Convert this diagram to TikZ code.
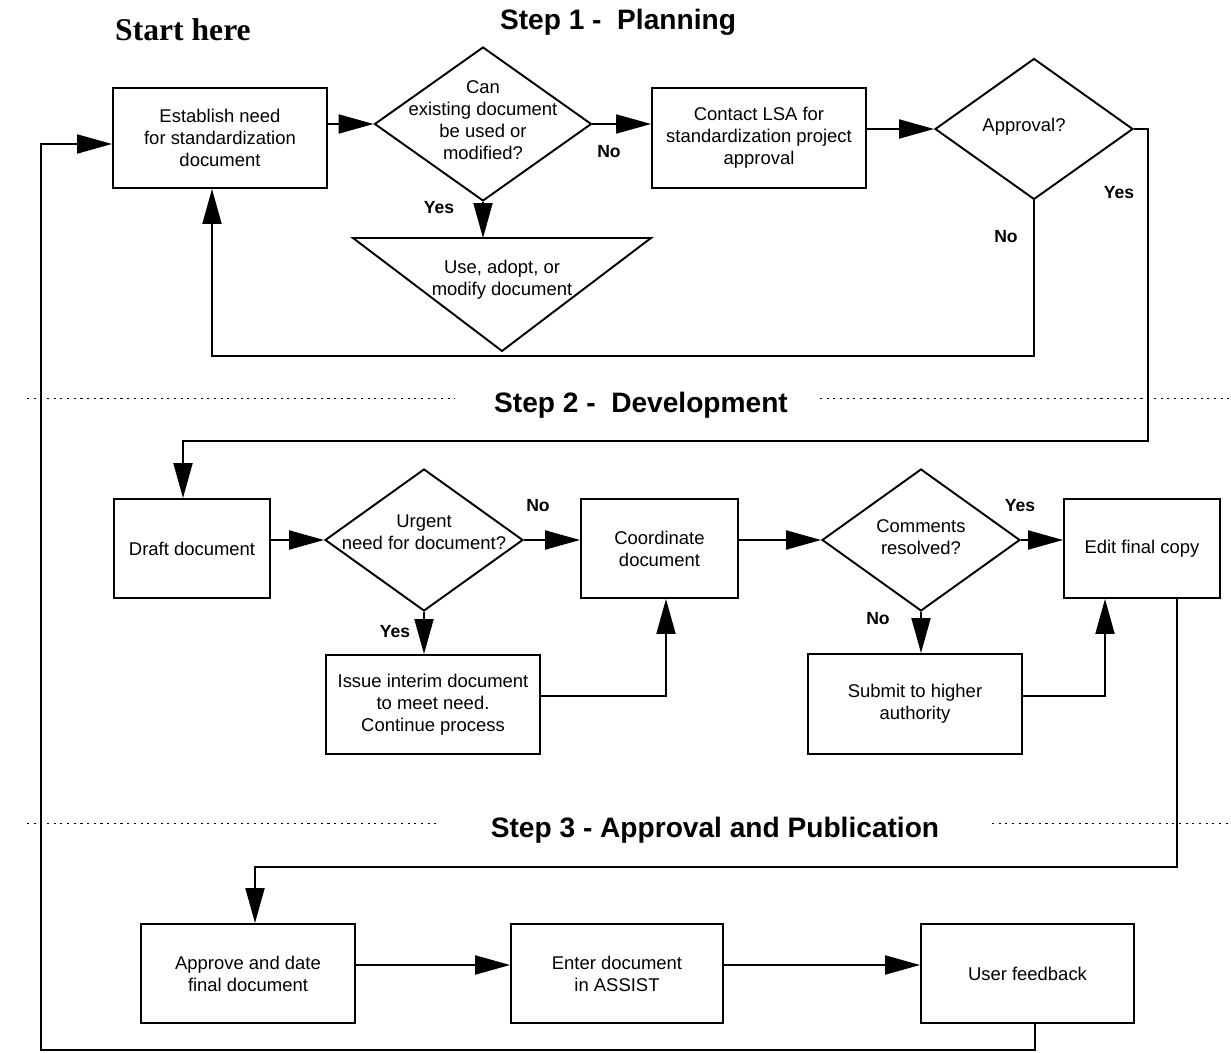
\documentclass[tikz,border=0pt]{standalone}
\usepackage{fontspec}
\setmainfont{Liberation Sans}
\newfontfamily\startfont{Liberation Serif}
\usetikzlibrary{shapes.geometric, arrows.meta}

\tikzset{
    box/.style={draw, line width=1.1pt, align=center, inner sep=2pt, font=\fontsize{10.5}{12.5}\selectfont},
    decision/.style={draw, diamond, line width=1.1pt, inner sep=0pt},
    txt/.style={align=center, font=\fontsize{10.5}{12.5}\selectfont},
    answer/.style={font=\bfseries\fontsize{10}{12}\selectfont},
    steptitle/.style={font=\bfseries\fontsize{16}{19}\selectfont},
    arr/.style={-{Triangle[length=0.7cm, width=0.38cm]}, line width=1.1pt},
    link/.style={line width=1.1pt},
    divider/.style={line width=0.5pt, dash pattern=on 1.2pt off 2.6pt}
}

\begin{document}
\begin{tikzpicture}[x=0.02cm, y=-0.02cm]
    \useasboundingbox (0, 0) rectangle (1231, 1053);

    \node [font=\startfont\bfseries\fontsize{18}{21}\selectfont] (start) at (183, 30) {Start here};
    \node [steptitle] (step1) at (618, 22) {Step 1 -\ \ Planning};
    \node [steptitle] (step2) at (641, 405) {Step 2 -\ \ Development};
    \node [steptitle] (step3) at (715, 830) {Step 3 - Approval and Publication};
    \draw [divider] (27, 398) -- (455, 398);
    \draw [divider] (820, 398) -- (1231, 398);
    \draw [divider] (27, 823) -- (438, 823);
    \draw [divider] (992, 823) -- (1231, 823);

    % step 1
    \node [box, minimum width=4.28cm, minimum height=2cm] (est) at (220, 138) {Establish need\\for standardization\\document};
    \node [decision, minimum width=4.34cm, minimum height=3.08cm] (can) at (483, 124) {};
    \node [txt] (cantxt) at (483, 120.5) {Can\\existing document\\be used or\\modified?};
    \node [box, minimum width=4.28cm, minimum height=2cm] (lsa) at (759, 138) {Contact LSA for\\standardization project\\approval};
    \node [decision, minimum width=3.96cm, minimum height=2.82cm] (appr) at (1034, 129) {};
    \node [txt] (apprtxt) at (1024, 127) {Approval?};
    \draw [link] (353, 238) -- (651, 238) -- (502, 351) -- cycle;
    \coordinate (usetop) at (483, 238);
    \node [txt] (usetxt) at (502, 280) {Use, adopt, or\\modify document};

    % step 2
    \node [box, minimum width=3.12cm, minimum height=1.98cm] (draft) at (192, 548.5) {Draft document};
    \node [decision, minimum width=3.96cm, minimum height=2.84cm] (urg) at (424, 540) {};
    \node [txt] (urgtxt) at (424, 532) {Urgent\\need for document?};
    \node [box, minimum width=3.14cm, minimum height=1.98cm] (coord) at (659.5, 548.5) {Coordinate\\document};
    \node [box, minimum width=4.28cm, minimum height=1.98cm] (issue) at (433, 704.5) {Issue interim document\\to meet need.\\Continue process};
    \node [decision, minimum width=3.96cm, minimum height=2.84cm] (comm) at (921, 540) {};
    \node [txt] (commtxt) at (921, 537) {Comments\\resolved?};
    \node [box, minimum width=3.12cm, minimum height=1.98cm] (edit) at (1142, 548.5) {Edit final copy};
    \node [box, minimum width=4.28cm, minimum height=2cm] (submit) at (915, 704) {Submit to higher\\authority};

    % step 3
    \node [box, minimum width=4.28cm, minimum height=1.98cm] (approve) at (248, 973.5) {Approve and date\\final document};
    \node [box, minimum width=4.24cm, minimum height=1.98cm] (enter) at (617, 973.5) {Enter document\\in ASSIST};
    \node [box, minimum width=4.26cm, minimum height=1.98cm] (user) at (1027.5, 973.5) {User feedback};

    \coordinate (noturn) at (1034, 356);
    \coordinate (yesturn) at (1148, 441);
    \coordinate (editturn) at (1177, 867);
    \coordinate (back) at (41, 1050);

    \draw [arr] (est.east |- can.west) -- (can.west);
    \draw [arr] (can.east) -- (can.east -| lsa.west);
    \draw [arr] (appr.west -| lsa.east) -- (appr.west);
    \draw [arr] (can.south) -- (usetop);
    \draw [arr] (appr.south) -- (noturn) -| ([xshift=-0.16cm]est.south);
    \draw [arr] (appr.east) -| (yesturn) -| ([xshift=-0.18cm]draft.north);
    \draw [arr] (draft.east |- urg.west) -- (urg.west);
    \draw [arr] (urg.east) -- (urg.east -| coord.west);
    \draw [arr] (urg.south) -- (urg.south |- issue.north);
    \draw [arr] ([yshift=0.17cm]issue.east) -| ([xshift=0.13cm]coord.south);
    \draw [arr] (coord.east |- comm.west) -- (comm.west);
    \draw [arr] (comm.east) -- (comm.east -| edit.west);
    \draw [arr] (comm.south) -- (comm.south |- submit.north);
    \draw [arr] ([yshift=0.16cm]submit.east) -| ([xshift=-0.74cm]edit.south);
    \draw [arr] ([xshift=0.7cm]edit.south) -- (editturn) -| ([xshift=0.14cm]approve.north);
    \draw [arr] ([yshift=0.17cm]approve.east) -- ([yshift=0.17cm]enter.west);
    \draw [arr] ([yshift=0.17cm]enter.east) -- ([yshift=0.17cm]user.west);
    \draw [arr] ([xshift=0.15cm]user.south) |- (back) |- ([yshift=-0.12cm]est.west);

    \node [answer] (yes1) at (439, 208) {Yes};
    \node [answer] (no1) at (609, 152) {No};
    \node [answer] (yes2) at (1119, 193) {Yes};
    \node [answer] (no2) at (1006, 237) {No};
    \node [answer] (no3) at (538, 506) {No};
    \node [answer] (yes3) at (395, 632) {Yes};
    \node [answer] (yes4) at (1020, 506) {Yes};
    \node [answer] (no4) at (878, 619) {No};
\end{tikzpicture}
\end{document}
